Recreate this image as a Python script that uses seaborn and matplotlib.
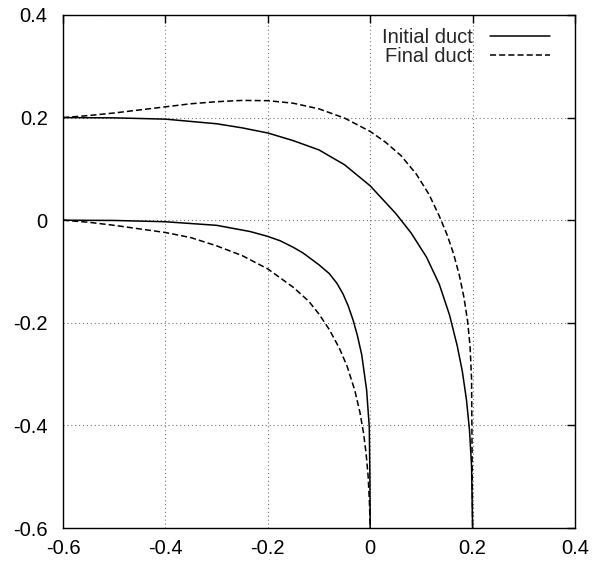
import numpy as np
import pandas as pd
import matplotlib
matplotlib.use("Agg")
import matplotlib.pyplot as plt
import seaborn as sns

# Initial duct, outer wall
init_outer_x = [-0.6, -0.5, -0.4, -0.3, -0.25, -0.2, -0.15, -0.1, -0.05, 0.0, 0.05, 0.08, 0.11,
                0.135, 0.155, 0.17, 0.18, 0.188, 0.194, 0.198, 0.2]
init_outer_y = [0.2, 0.1995, 0.197, 0.188, 0.180, 0.170, 0.155, 0.137, 0.108, 0.067, 0.013, -0.025,
                -0.072, -0.125, -0.185, -0.245, -0.295, -0.35, -0.41, -0.48, -0.6]
# Initial duct, inner wall
init_inner_x = [-0.6, -0.5, -0.4, -0.3, -0.235, -0.202, -0.176, -0.15, -0.131, -0.1, -0.08,
                -0.065, -0.053, -0.043, -0.033, -0.025, -0.0166, -0.007, -0.0018, -0.0006, 0.0]
init_inner_y = [0.0, -0.0005, -0.003, -0.01, -0.022, -0.031, -0.040, -0.053, -0.064, -0.087, -0.104,
                -0.123, -0.144, -0.167, -0.196, -0.225, -0.262, -0.331, -0.403, -0.5, -0.6]
# Final duct, outer wall
final_outer_x = [-0.6, -0.55, -0.5, -0.45, -0.4, -0.35, -0.3, -0.25, -0.2, -0.15, -0.1, -0.05, 0.0,
                 0.03, 0.06, 0.09, 0.115, 0.135, 0.15, 0.163, 0.174, 0.183, 0.19, 0.195, 0.198, 0.2]
final_outer_y = [0.2, 0.204, 0.209, 0.215, 0.221, 0.227, 0.231, 0.2335, 0.233, 0.228, 0.217, 0.199,
                 0.173, 0.152, 0.126, 0.09, 0.05, 0.008, -0.028, -0.066, -0.107, -0.15, -0.195,
                 -0.245, -0.31, -0.6]
# Final duct, inner wall
final_inner_x = [-0.6, -0.55, -0.5, -0.45, -0.4, -0.35, -0.3, -0.25, -0.2, -0.15, -0.12, -0.1,
                 -0.08, -0.06, -0.045, -0.03, -0.02, -0.013, -0.008, -0.004, -0.0015, 0.0]
final_inner_y = [0.0, -0.004, -0.01, -0.017, -0.024, -0.034, -0.05, -0.069, -0.095, -0.131, -0.158,
                 -0.183, -0.213, -0.25, -0.285, -0.332, -0.375, -0.415, -0.455, -0.5, -0.55, -0.6]

labels = ["Initial duct", "Final duct"]
ticks = [-0.6, -0.4, -0.2, 0, 0.2, 0.4]
tick_labels = ["-0.6", "-0.4", "-0.2", "0", "0.2", "0.4"]

sns.set_style("white")
plt.rcParams["font.family"] = ["Liberation Sans", "DejaVu Sans"]

fig = plt.figure(figsize=(5.92, 5.61), dpi=100)
ax = fig.add_axes([63 / 592, 1 - 528 / 561, 512 / 592, 513 / 561])

curves = [
    (init_outer_x, init_outer_y, labels[0], True),
    (init_inner_x, init_inner_y, labels[0], False),
    (final_outer_x, final_outer_y, labels[1], True),
    (final_inner_x, final_inner_y, labels[1], False),
]
for xs, ys, lab, show in curves:
    df = pd.DataFrame({"x": xs, "y": ys})
    ls = "-" if lab == labels[0] else (0, (4, 2))
    sns.lineplot(data=df, x="x", y="y", sort=False, estimator=None, ax=ax,
                 color="black", linewidth=1.1, linestyle=ls,
                 label=lab if show else None)

ax.set_xlim(-0.6, 0.4)
ax.set_ylim(-0.6, 0.4)
ax.set_xticks(ticks)
ax.set_xticklabels(tick_labels)
ax.set_yticks(ticks)
ax.set_yticklabels(tick_labels)
ax.set_xlabel("")
ax.set_ylabel("")
ax.grid(True, color="0.45", linestyle=(0, (1, 2.5)), linewidth=0.8)
ax.tick_params(direction="in", length=6, width=1, top=True, right=True,
               labelsize=14.5, colors="black")
ax.tick_params(axis="x", pad=8)
ax.tick_params(axis="y", pad=11)
for s in ax.spines.values():
    s.set_color("black")
    s.set_linewidth(1.0)

leg = ax.legend(loc="upper right", bbox_to_anchor=(1 - 25 / 512, 1 - 13 / 513),
                frameon=False, markerfirst=False, fontsize=14.5,
                handlelength=3.0, handletextpad=0.85, labelspacing=0.0,
                borderaxespad=0.0, borderpad=0.0)
for t in leg.get_texts():
    t.set_ha("right")
    t.set_position((0, 0))

fig.savefig("out.png", dpi=100)
